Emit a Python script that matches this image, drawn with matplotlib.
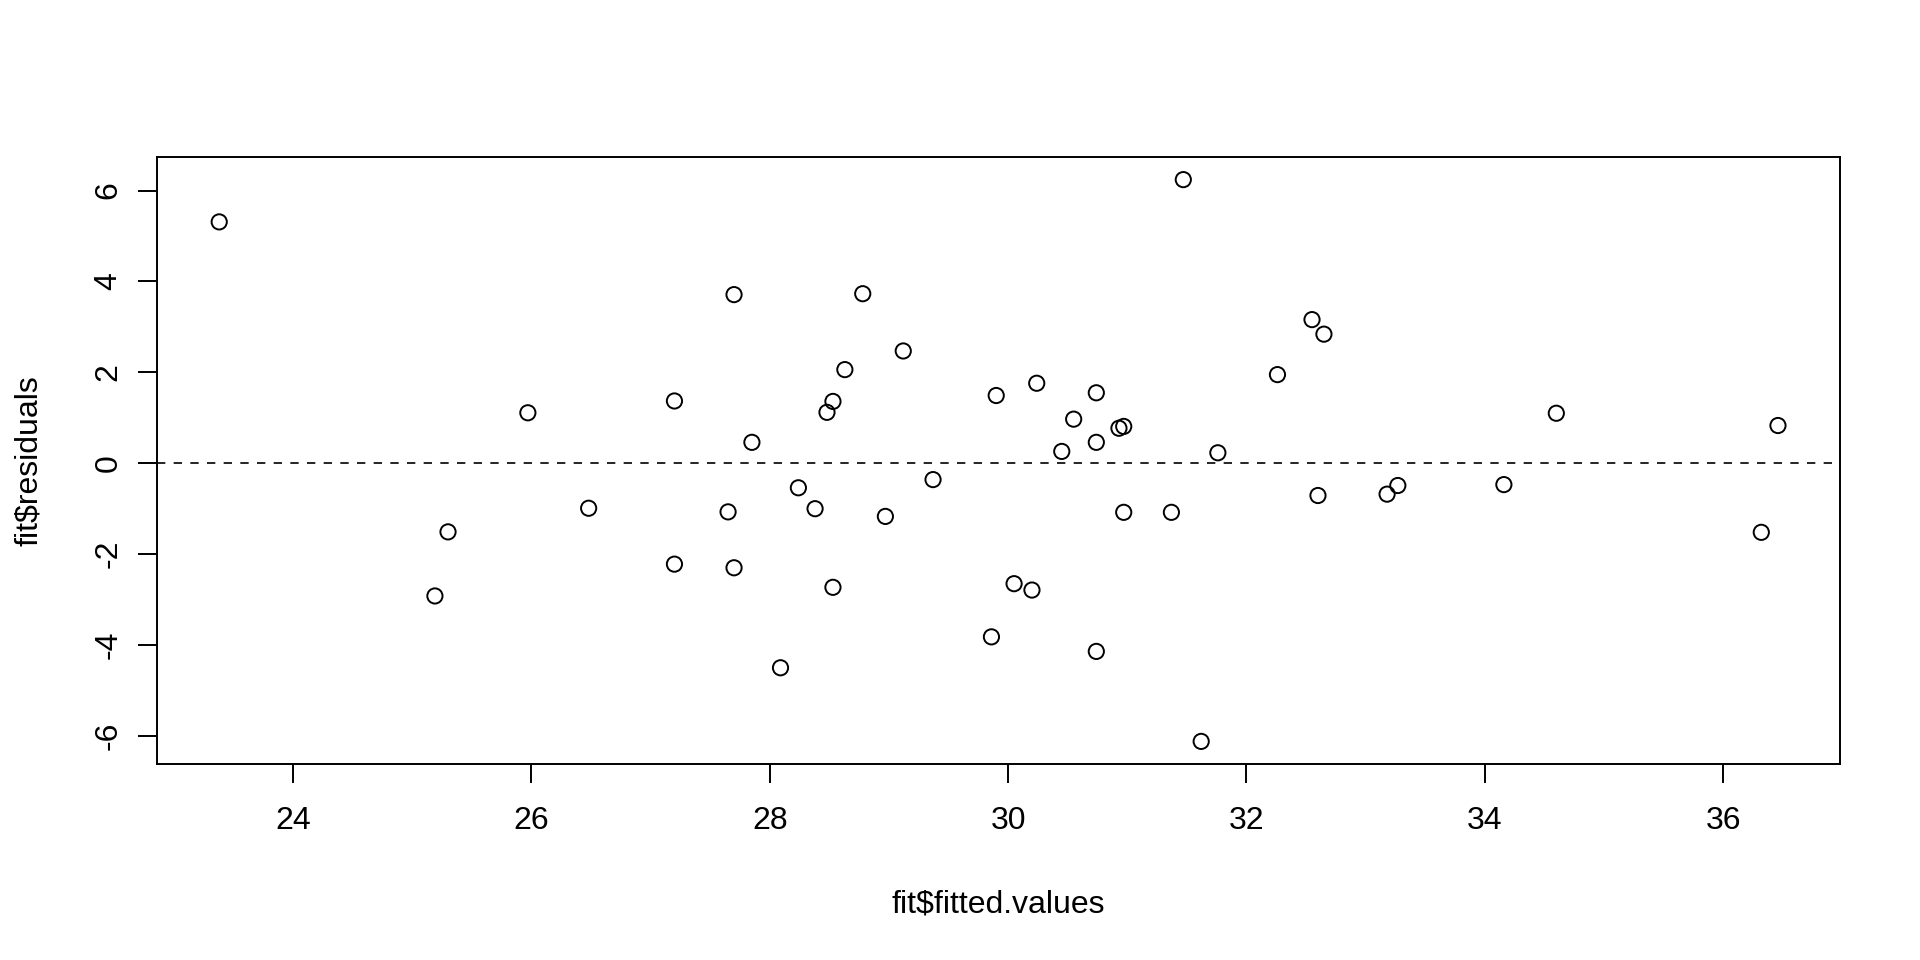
import numpy as np
import matplotlib
matplotlib.use("Agg")
import matplotlib.pyplot as plt

fitted = [23.38, 25.19, 25.30, 25.97, 26.48, 27.20, 27.20, 27.65, 27.70, 27.70,
          27.85, 28.09, 28.24, 28.38, 28.48, 28.53, 28.53, 28.63, 28.78, 28.97,
          29.12, 29.37, 29.86, 29.90, 30.05, 30.20, 30.24, 30.45, 30.55, 30.74,
          30.74, 30.74, 30.93, 30.97, 30.97, 31.37, 31.47, 31.62, 31.76, 32.26,
          32.55, 32.60, 32.65, 33.18, 33.27, 34.16, 34.60, 36.32, 36.46]
residuals = [5.31, -2.92, -1.51, 1.11, -0.99, 1.37, -2.22, -1.07, 3.71, -2.30,
             0.46, -4.50, -0.54, -1.00, 1.12, 1.36, -2.73, 2.06, 3.73, -1.17,
             2.47, -0.36, -3.82, 1.49, -2.65, -2.79, 1.76, 0.26, 0.97, 1.55,
             0.46, -4.14, 0.77, 0.81, -1.08, -1.08, 6.24, -6.12, 0.23, 1.95,
             3.16, -0.71, 2.84, -0.68, -0.49, -0.47, 1.10, -1.52, 0.83]

xticks = [24, 26, 28, 30, 32, 34, 36]
yticks = [-6, -4, -2, 0, 2, 4, 6]

plt.rcParams['font.family'] = ['Liberation Sans', 'DejaVu Sans']

fig = plt.figure(figsize=(19.2, 9.6), dpi=100)
ax = fig.add_axes([0.0817, 0.2043, 0.8768, 0.632])

ax.scatter(fitted, residuals, s=120, facecolors='none', edgecolors='black', linewidths=1.4, zorder=3)
ax.axhline(0, color='black', linewidth=1.2, linestyle=(0, (5, 5)))

# limites con extension del 4% como en R
xr = max(fitted) - min(fitted)
yr = max(residuals) - min(residuals)
ax.set_xlim(min(fitted) - 0.04 * xr, max(fitted) + 0.04 * xr)
ax.set_ylim(min(residuals) - 0.04 * yr, max(residuals) + 0.04 * yr)

ax.set_xticks(xticks)
ax.set_yticks(yticks)
ax.set_yticklabels([str(v) for v in yticks], rotation=90, va='center')
ax.tick_params(axis='both', direction='out', length=13.5, width=1.4, labelsize=23)
ax.tick_params(axis='x', pad=17)
ax.tick_params(axis='y', pad=10.5)
for s in ax.spines.values():
    s.set_linewidth(1.4)

ax.set_xlabel(r'fit\$fitted.values', fontsize=23, labelpad=38)
ax.set_ylabel(r'fit\$residuals', fontsize=23, labelpad=36)

fig.savefig('out.png', dpi=100, facecolor='white')
